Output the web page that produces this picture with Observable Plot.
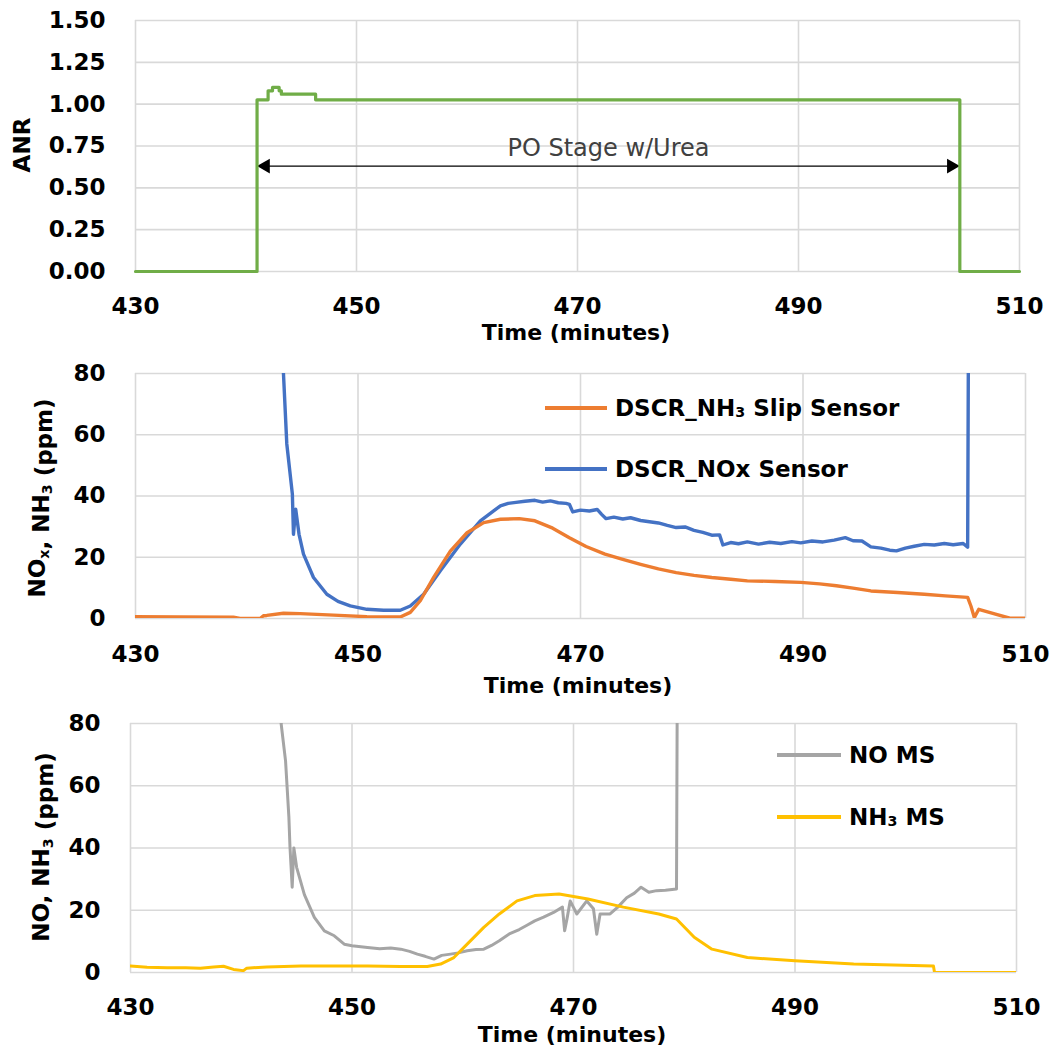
<!DOCTYPE html>
<html><head><meta charset="utf-8">
<script src="https://cdn.jsdelivr.net/npm/d3@7"></script>
<script src="https://cdn.jsdelivr.net/npm/@observablehq/plot@0.6"></script>
<style>
body{margin:0;background:#fff;}
#wrap{position:relative;width:1055px;height:1048px;overflow:hidden;font-family:"DejaVu Sans",sans-serif;}
.panel{position:absolute;left:0;}
.leg{position:absolute;font-weight:700;font-size:23px;color:#000;display:flex;align-items:center;white-space:nowrap;height:30px;}
.leg .sw{display:inline-block;height:4px;margin-right:8px;}
.leg sub{font-size:0.62em;vertical-align:-0.05em;}
</style></head><body><div id="wrap"></div>
<script>
// ---------- tick labels ----------
const xTicks = [430, 450, 470, 490, 510];
const anrTicks = [0, 0.25, 0.5, 0.75, 1.0, 1.25, 1.5];
const ppmTicks = [0, 20, 40, 60, 80];

// ---------- Panel 1: ANR ----------
const anrTime  = [430, 441.0, 442.0, 442.4, 442.8, 443.0, 443.2, 446.3, 504.6, 510];
const anrValue = [0,   1.026, 1.08,  1.10,  1.10,  1.08,  1.06,  1.026, 0,     0];
const stageStart = [441.0];
const stageEnd   = [504.6];
const stageArrowY = [0.63];
const stageLabelY = [0.735];
const stageLabel = ["PO Stage w/Urea"];

// ---------- Panel 2: sensors ----------
const slipTime  = [430, 434, 438.8, 439.4, 441.2, 441.5, 441.8, 443.3, 444.8, 447.8, 450.8, 453.8, 454.7, 455.6, 456.8, 458.3, 459.8, 461.3, 462.8, 464.5, 465.9, 467.5, 469, 470.5, 472.2, 473.8, 475.4, 477, 478.6, 480.2, 481.8, 483.5, 485, 487.5, 489.8, 491.5, 493, 494.5, 496.1, 498.5, 500.9, 502.8, 504.8, 505.1, 505.4, 505.8, 507.3, 508.6, 510];
const slipValue = [0.6, 0.5, 0.4,   0,     0,     0.9,   1.0,   1.7,   1.6,   1.1,   0.6,   0.5,   2.0,   5.8,   13.4,  22,    28,    31.3,  32.4,  32.6,  31.9,  29.5,  26.4, 23.5, 21,    19.3,  17.7,  16.2, 15,    14.1,  13.4,  12.8,  12.3, 12.1,  11.8,  11.3,  10.7,  9.9,   9.0,   8.5,   7.9,   7.4,   6.9,   4.0,   0.3,   3.0,   1.4,   0.1,   0.1];

const noxTime  = [443.0, 443.3, 443.6, 444.1, 444.2, 444.4, 444.7, 445.1, 446.0, 447.2, 448.2, 449.3, 450.8, 452.3, 453.8, 454.7, 455.9, 457.4, 459.2, 461.0, 462.8, 463.5, 464.2, 465.0, 465.9, 466.6, 467.3, 468.0, 468.7, 469.0, 469.3, 470.0, 470.8, 471.5, 471.9, 472.3, 473.0, 473.8, 474.5, 475.4, 476.2, 477.0, 477.8, 478.6, 479.4, 480.2, 481.0, 481.8, 482.5, 482.8, 483.5, 484.2, 485.0, 486.0, 487.0, 488.0, 489.0, 489.8, 490.8, 491.8, 492.8, 493.8, 494.5, 495.3, 496.1, 497.0, 497.8, 498.4, 499.2, 500.0, 500.9, 501.8, 502.7, 503.5, 504.4, 504.8, 504.9];
const noxValue = [120,   80,    57,    40.6,  27.5,  35.7,  27.5,  21,    13.4,  7.9,   5.6,   4.1,   3.0,   2.7,   2.7,   4.1,   7.9,   15.6,  24.3,  31.9,  36.8,  37.6,  37.9,  38.3,  38.6,  38.0,  38.4,  37.8,  37.6,  37.3,  34.8,  35.4,  35.1,  35.6,  34.0,  32.6,  33.1,  32.5,  32.9,  32.0,  31.6,  31.2,  30.4,  29.7,  29.9,  28.8,  28.1,  27.2,  27.3,  24.0,  24.8,  24.4,  25.0,  24.3,  24.9,  24.5,  25.1,  24.7,  25.3,  25.0,  25.6,  26.4,  25.4,  25.3,  23.4,  23.0,  22.3,  22.1,  23.0,  23.6,  24.2,  24.0,  24.5,  24.1,  24.5,  23.3,  120];

// ---------- Panel 3: mass spec ----------
const msNoTime  = [443.2, 443.6, 444.0, 444.3, 444.4, 444.6, 444.75, 445.0, 445.7, 446.6, 447.5, 448.4, 449.3, 450.0, 451.4, 452.5, 453.5, 454.4, 455.2, 455.9, 456.6, 457.4, 458.1, 458.9, 459.6, 460.4, 461.2, 461.9, 462.6, 463.3, 464.2, 465.1, 465.8, 466.5, 467.3, 468.2, 469.0, 469.2, 469.4, 469.7, 470.3, 471.2, 471.8, 472.1, 472.4, 473.3, 474.0, 474.8, 475.5, 476.1, 476.8, 477.5, 478.3, 479.3, 479.4];
const msNoValue = [120,   80,    68,    50,    40.3,  27.4,  40,     33.8,  25,    17.7,  13.4,  11.8,  9.1,   8.6,   8.0,   7.6,   7.9,   7.5,   6.8,   5.9,   5.2,   4.3,   5.5,   5.9,   6.3,   7.0,   7.4,   7.5,   8.7,   10.2,  12.4,  13.8,  15.2,  16.6,  17.8,  19.3,  21,    13.4,  17,    23,    18.8,  23,    20.5,  12.3,  18.8,  18.8,  21,    24,    25.5,  27.4,  25.8,  26.3,  26.4,  26.8,  120];

const msNh3Time  = [430, 431.5, 433.3, 435, 436.3, 437.5, 438.4, 439.3, 440.2, 440.5, 442.3, 445.4, 448.4, 451.4, 454.4, 456.8, 458.0, 459.2, 460.4, 461.9, 463.3, 464.9, 466.5, 468.7, 471.3, 474.5, 477.7, 479.3, 480.9, 482.5, 485.7, 490.0, 495.3, 502.5, 502.6, 510];
const msNh3Value = [2.1, 1.7,   1.5,   1.5, 1.4,   1.8,   2.0,   1.0,   0.6,   1.4,   1.8,   2.1,   2.1,   2.1,   1.9,   1.9,   2.7,   4.8,   9.1,   14.5,  18.8,  23,    24.7,  25.2,  23.6,  21,    18.8,  17.2,  11.3,  7.5,   4.8,   3.8,   2.7,   2.1,   0,     0];

// ---------- colours ----------
const cAnr = "#70AD47", cSlip = "#ED7D31", cNox = "#4472C4", cMsNo = "#A5A5A5", cMsNh3 = "#FFC000";
const gridColor = "#d9d9d9";

const toRows = (ts, vs) => ts.map((t, i) => ({t, v: vs[i]}));
const anr = toRows(anrTime, anrValue);
const stage = stageStart.map((s, i) => ({start: s, end: stageEnd[i], y: stageArrowY[i], ly: stageLabelY[i], label: stageLabel[i]}));
const slip = toRows(slipTime, slipValue);
const nox = toRows(noxTime, noxValue);
const msNo = toRows(msNoTime, msNoValue);
const msNh3 = toRows(msNh3Time, msNh3Value);

const style = {fontFamily: "DejaVu Sans", fontSize: "23px", fontWeight: 700, color: "#000", background: "transparent"};
const grids = (yt) => [
  Plot.gridX(xTicks, {stroke: gridColor, strokeOpacity: 1, strokeWidth: 1.6}),
  Plot.gridY(yt, {stroke: gridColor, strokeOpacity: 1, strokeWidth: 1.6})
];

const wrap = document.getElementById("wrap");
function place(svg, top) {
  const d = document.createElement("div");
  d.className = "panel"; d.style.top = top + "px";
  d.appendChild(svg); wrap.appendChild(d);
}
function addText(svg, x, y, parts, opts = {}) {
  const t = d3.select(svg).append("text")
    .attr("text-anchor", "middle")
    .attr("font-family", "DejaVu Sans")
    .attr("font-weight", 700)
    .attr("font-size", opts.size || 23)
    .attr("fill", "#000");
  if (opts.rotate) t.attr("transform", `translate(${x},${y}) rotate(-90)`).attr("dy", "0.36em");
  else t.attr("x", x).attr("y", y);
  for (const p of parts) {
    if (typeof p === "string") t.append("tspan").text(p);
    else {
      t.append("tspan").attr("font-size", "0.62em").attr("dy", "0.25em").text(p.sub);
      t.append("tspan").attr("dy", "-0.155em").text("");
    }
  }
}

// Panel 1
const p1 = Plot.plot({
  width: 1055, height: 350, marginTop: 20, marginBottom: 79, marginLeft: 135, marginRight: 36,
  style,
  x: {domain: [430, 510], ticks: xTicks, tickSize: 0, tickPadding: 26, label: null},
  y: {domain: [0, 1.5], ticks: anrTicks, tickFormat: d3.format(".2f"), tickSize: 0, tickPadding: 30, label: null},
  marks: [
    ...grids(anrTicks),
    Plot.link(stage, {x1: "start", x2: "end", y1: "y", y2: "y", stroke: "#000", strokeWidth: 1.3}),
    Plot.dot(stage, {x: "start", y: "y", symbol: "triangle", rotate: -90, r: 5.5, fill: "#000", stroke: null, dx: 8.5}),
    Plot.dot(stage, {x: "end", y: "y", symbol: "triangle", rotate: 90, r: 5.5, fill: "#000", stroke: null, dx: -8.5}),
    Plot.text(stage, {x: d => (d.start + d.end) / 2, y: "ly", text: "label", fontSize: 24, fontWeight: 400, fill: "#404040"}),
    Plot.line(anr, {x: "t", y: "v", curve: "step-after", stroke: cAnr, strokeWidth: 3.2})
  ]
});
addText(p1, 576, 340, ["Time (minutes)"], {size: 22});
addText(p1, 22, 145, ["ANR"], {rotate: true});
place(p1, 0);

// Panel 2
const p2 = Plot.plot({
  width: 1055, height: 350, marginTop: 23, marginBottom: 82, marginLeft: 135, marginRight: 30,
  style,
  x: {domain: [430, 510], ticks: xTicks, tickSize: 0, tickPadding: 27, label: null},
  y: {domain: [0, 80], ticks: ppmTicks, tickSize: 0, tickPadding: 30, label: null},
  marks: [
    ...grids(ppmTicks),
    Plot.line(nox, {x: "t", y: "v", stroke: cNox, strokeWidth: 3.4, clip: true}),
    Plot.line(slip, {x: "t", y: "v", stroke: cSlip, strokeWidth: 3.4, clip: true})
  ]
});
addText(p2, 578, 343, ["Time (minutes)"], {size: 22});
addText(p2, 37, 148, ["NO", {sub: "x"}, ", NH", {sub: "3"}, " (ppm)"], {rotate: true});
place(p2, 350);

// Panel 3
const p3 = Plot.plot({
  width: 1055, height: 348, marginTop: 23, marginBottom: 76, marginLeft: 130, marginRight: 39,
  style,
  x: {domain: [430, 510], ticks: xTicks, tickSize: 0, tickPadding: 26, label: null},
  y: {domain: [0, 80], ticks: ppmTicks, tickSize: 0, tickPadding: 30, label: null},
  marks: [
    ...grids(ppmTicks),
    Plot.line(msNo, {x: "t", y: "v", stroke: cMsNo, strokeWidth: 3, clip: true}),
    Plot.line(msNh3, {x: "t", y: "v", stroke: cMsNh3, strokeWidth: 3, clip: true})
  ]
});
addText(p3, 572, 342, ["Time (minutes)"], {size: 22});
addText(p3, 41, 147, ["NO, NH", {sub: "3"}, " (ppm)"], {rotate: true});
place(p3, 700);

// Legends
function legend(left, centerY, color, lineW, html) {
  const d = document.createElement("div");
  d.className = "leg";
  d.style.left = left + "px"; d.style.top = (centerY - 15) + "px";
  d.innerHTML = `<span class="sw" style="width:${lineW}px;background:${color}"></span><span>${html}</span>`;
  wrap.appendChild(d);
}
legend(545, 408, cSlip, 62, "DSCR_NH<sub>3</sub> Slip Sensor");
legend(545, 469, cNox, 62, "DSCR_NOx Sensor");
legend(777, 755, cMsNo, 64, "NO MS");
legend(777, 817, cMsNh3, 64, "NH<sub>3</sub> MS");
</script></body></html>
